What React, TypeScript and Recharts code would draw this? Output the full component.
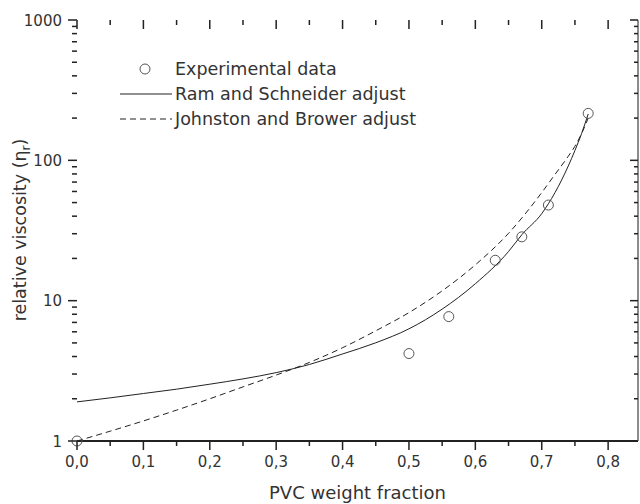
import React from 'react';
import { ComposedChart, Line, Scatter, XAxis, YAxis } from 'recharts';

// experimental points (PVC weight fraction, relative viscosity)
const expX = [0, 0.5, 0.56, 0.63, 0.67, 0.71, 0.77];
const expY = [1, 4.2, 7.7, 19.4, 28.5, 48, 216];

// Ram and Schneider adjust (solid)
const ramX = [0, 0.05, 0.1, 0.15, 0.2, 0.25, 0.3, 0.35, 0.4, 0.45, 0.5, 0.55, 0.6, 0.65, 0.67, 0.7, 0.72, 0.74, 0.75, 0.76, 0.77];
const ramY = [1.9, 2.03, 2.18, 2.34, 2.54, 2.77, 3.07, 3.51, 4.17, 5.01, 6.3, 8.7, 13.2, 22.4, 29.5, 41.7, 58.9, 91.2, 117.5, 155, 214];

// Johnston and Brower adjust (dashed)
const jbX = [0, 0.05, 0.1, 0.15, 0.2, 0.25, 0.3, 0.35, 0.4, 0.45, 0.5, 0.55, 0.6, 0.65, 0.7, 0.72, 0.74, 0.75, 0.76, 0.77];
const jbY = [1.0, 1.175, 1.39, 1.66, 2.0, 2.43, 2.95, 3.63, 4.62, 6.1, 8.22, 11.75, 18.0, 30.2, 58.9, 79.4, 107, 126, 155, 200];

const xTicks = [0, 0.05, 0.1, 0.15, 0.2, 0.25, 0.3, 0.35, 0.4, 0.45, 0.5, 0.55, 0.6, 0.65, 0.7, 0.75, 0.8];
const yTicks = [1, 2, 3, 4, 5, 6, 7, 8, 9, 10, 20, 30, 40, 50, 60, 70, 80, 90, 100, 200, 300, 400, 500, 600, 700, 800, 900, 1000];

const toPoints = (xs: number[], ys: number[]) => xs.map((x, i) => ({ x, y: ys[i] }));
const expData = toPoints(expX, expY);
const ramData = toPoints(ramX, ramY);
const jbData = toPoints(jbX, jbY);

const FONT = '"DejaVu Sans", sans-serif';
const INK = '#222';
// plot frame edges (margin.top, margin.left)
const PLOT_TOP = 20;
const PLOT_LEFT = 77;

const isMajorX = (v: number) => Math.round(v * 100) % 10 === 0;
const isMajorY = (v: number) => Math.abs(Math.log10(v) - Math.round(Math.log10(v))) < 1e-9;

// bottom axis tick: bottom tick, its label and the matching top-frame tick
const BottomTick = (props: any) => {
  const { x, y, payload } = props;
  const len = isMajorX(payload.value) ? 9 : 5;
  return (
    <g>
      <rect x={x - 0.75} y={y} width={1.5} height={len} fill={INK} />
      <rect x={x - 0.75} y={PLOT_TOP} width={1.5} height={len} fill={INK} />
      {len === 9 && (
        <text x={x} y={y + 26} textAnchor="middle" fontSize={15} fontFamily={FONT} fill="#333">
          {payload.value.toFixed(1).replace('.', ',')}
        </text>
      )}
    </g>
  );
};

// right axis tick: inward right tick, plus the outward left-frame tick and its label
const RightTick = (props: any) => {
  const { x, y, payload } = props;
  const major = isMajorY(payload.value);
  const inner = major ? 8 : 4;
  const outer = major ? 9 : 5;
  return (
    <g>
      <rect x={x - inner} y={y - 0.75} width={inner} height={1.5} fill={INK} />
      <rect x={PLOT_LEFT - outer} y={y - 0.75} width={outer} height={1.5} fill={INK} />
      {major && (
        <text x={PLOT_LEFT - 15} y={y + 5.5} textAnchor="end" fontSize={15} fontFamily={FONT} fill="#333">
          {payload.value}
        </text>
      )}
    </g>
  );
};

const Circle = ({ cx, cy }: any) => <circle cx={cx} cy={cy} r={5} fill="none" stroke="#555" strokeWidth={1} />;

const Overlay = () => (
  <svg width={640} height={504} style={{ position: 'absolute', left: 0, top: 0, pointerEvents: 'none' }}>
    <g fontFamily={FONT} fontSize={17.5} fill="#333">
      <text transform="translate(26, 230) rotate(-90)" textAnchor="middle">
        relative viscosity (η<tspan fontSize={12} dy={4}>r</tspan>
        <tspan dy={-4}>)</tspan>
      </text>
      <circle cx={145} cy={69} r={5} fill="none" stroke="#555" />
      <text x={175} y={75}>Experimental data</text>
      <line x1={120} x2={172} y1={94} y2={94} stroke={INK} strokeWidth={1} />
      <text x={175} y={100}>Ram and Schneider adjust</text>
      <line x1={120} x2={172} y1={119} y2={119} stroke={INK} strokeWidth={1} strokeDasharray="6 4" />
      <text x={175} y={125}>Johnston and Brower adjust</text>
    </g>
  </svg>
);

export default function App() {
  return (
    <div style={{ position: 'absolute', left: 0, top: 0, width: 640, height: 504, background: '#fff' }}>
      <ComposedChart width={640} height={504} margin={{ top: PLOT_TOP, right: 1, bottom: 0, left: PLOT_LEFT }}>
        <XAxis
          xAxisId="bottom"
          dataKey="x"
          type="number"
          domain={[0, 0.845]}
          ticks={xTicks}
          interval={0}
          height={63}
          tickSize={0}
          tickMargin={0}
          tickLine={false}
          tick={<BottomTick />}
          axisLine={{ stroke: INK, strokeWidth: 2 }}
          label={{ value: 'PVC weight fraction', position: 'insideBottom', offset: 5, fontSize: 18, fontFamily: FONT, fill: '#333' }}
        />
        <XAxis
          xAxisId="top"
          orientation="top"
          type="number"
          domain={[0, 0.845]}
          height={0}
          tick={false}
          tickLine={false}
          axisLine={{ stroke: INK, strokeWidth: 2 }}
        />
        <YAxis
          yAxisId="left"
          dataKey="y"
          type="number"
          scale="log"
          domain={[1, 1000]}
          ticks={yTicks}
          width={0}
          tick={false}
          tickLine={false}
          axisLine={{ stroke: '#666', strokeWidth: 1.5 }}
        />
        <YAxis
          yAxisId="right"
          orientation="right"
          dataKey="y"
          type="number"
          scale="log"
          domain={[1, 1000]}
          ticks={yTicks}
          interval={0}
          width={1}
          tickSize={0}
          tickMargin={0}
          tickLine={false}
          tick={<RightTick />}
          axisLine={{ stroke: '#666', strokeWidth: 1.5 }}
        />
        <Line
          xAxisId="bottom"
          yAxisId="left"
          data={ramData}
          dataKey="y"
          type="monotone"
          stroke={INK}
          strokeWidth={1}
          dot={false}
          isAnimationActive={false}
        />
        <Line
          xAxisId="bottom"
          yAxisId="right"
          data={jbData}
          dataKey="y"
          type="monotone"
          stroke={INK}
          strokeWidth={1}
          strokeDasharray="6 4"
          dot={false}
          isAnimationActive={false}
        />
        <Scatter
          xAxisId="bottom"
          yAxisId="left"
          data={expData}
          dataKey="y"
          shape={<Circle />}
          isAnimationActive={false}
        />
      </ComposedChart>
      <Overlay />
    </div>
  );
}
